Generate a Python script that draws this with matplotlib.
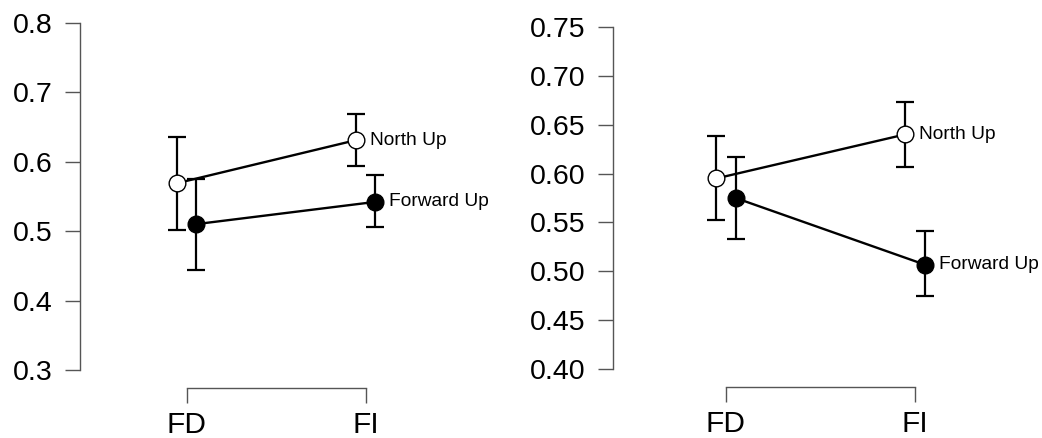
import matplotlib
matplotlib.use("Agg")
import matplotlib.pyplot as plt
import numpy as np

plt.rcParams['font.family'] = ['Liberation Sans', 'DejaVu Sans']

categories = ["FD", "FI"]
series_names = ["North Up", "Forward Up"]

# Left panel
left_north_mean = [0.569, 0.631]
left_north_lo = [0.502, 0.594]
left_north_hi = [0.635, 0.668]
left_forward_mean = [0.510, 0.542]
left_forward_lo = [0.444, 0.506]
left_forward_hi = [0.575, 0.581]
left_yticks = [0.3, 0.4, 0.5, 0.6, 0.7, 0.8]
left_yticklabels = ["0.3", "0.4", "0.5", "0.6", "0.7", "0.8"]

# Right panel
right_north_mean = [0.595, 0.640]
right_north_lo = [0.553, 0.607]
right_north_hi = [0.638, 0.673]
right_forward_mean = [0.575, 0.507]
right_forward_lo = [0.533, 0.475]
right_forward_hi = [0.617, 0.541]
right_yticks = [0.40, 0.45, 0.50, 0.55, 0.60, 0.65, 0.70, 0.75]
right_yticklabels = ["0.40", "0.45", "0.50", "0.55", "0.60", "0.65", "0.70", "0.75"]

W, H = 1042, 438
fig = plt.figure(figsize=(W / 100, H / 100), dpi=100)

spine_color = "#555555"


def make_panel(rect, xlim, ylim, yticks, yticklabels, north, forward, dodge):
    ax = fig.add_axes(rect)
    x = np.arange(len(categories))
    for (mean, lo, hi), name, face, off in [
        (forward, "Forward Up", "black", dodge),
        (north, "North Up", "white", -dodge),
    ]:
        xs = x + off
        mean = np.array(mean)
        yerr = [mean - np.array(lo), np.array(hi) - mean]
        ax.errorbar(xs, mean, yerr=yerr, fmt="none", ecolor="black",
                    elinewidth=1.6, capsize=6.5, capthick=1.6, zorder=2)
        ax.plot(xs, mean, color="black", lw=1.7, zorder=3)
        ax.plot(xs, mean, "o", ms=12, mfc=face, mec="black", mew=1.0, zorder=4)
        ax.annotate(name, (xs[-1], mean[-1]), xytext=(10, 0),
                    textcoords="offset points", va="center", ha="left",
                    fontsize=13.8, color="black")
    ax.set_xlim(*xlim)
    ax.set_ylim(*ylim)
    ax.set_yticks(yticks)
    ax.set_yticklabels(yticklabels)
    ax.set_xticks(x)
    ax.set_xticklabels(categories)
    for s in ["top", "right"]:
        ax.spines[s].set_visible(False)
    ax.spines["left"].set_bounds(ylim[0], ylim[1])
    ax.spines["bottom"].set_bounds(0, 1)
    ax.spines["bottom"].set_position(("outward", 13))
    for s in ["left", "bottom"]:
        ax.spines[s].set_color(spine_color)
        ax.spines[s].set_linewidth(1.0)
    ax.tick_params(axis="y", length=10.5, width=1.0, color=spine_color,
                   labelsize=20.5, pad=9)
    ax.tick_params(axis="x", length=10.5, width=1.0, color=spine_color,
                   labelsize=21.5, pad=6)
    ax.patch.set_alpha(0)
    return ax


# Left panel geometry (pixels -> figure fractions)
l_left, l_right = 80, 505
l_top, l_bot = 22.7, 370
fd_px, fi_px = 186.7, 365.7
unit = fi_px - fd_px
xlim_l = (-(fd_px - l_left) / unit, 1 + (l_right - fi_px) / unit)
make_panel([l_left / W, (H - l_bot) / H, (l_right - l_left) / W, (l_bot - l_top) / H],
           xlim_l, (0.3, 0.8), left_yticks, left_yticklabels,
           (left_north_mean, left_north_lo, left_north_hi),
           (left_forward_mean, left_forward_lo, left_forward_hi), 0.053)

# Right panel geometry
r_left, r_right = 612.7, 1040
r_top, r_bot = 26.7, 369.3
fd2, fi2 = 726, 915
unit2 = fi2 - fd2
xlim_r = (-(fd2 - r_left) / unit2, 1 + (r_right - fi2) / unit2)
make_panel([r_left / W, (H - r_bot) / H, (r_right - r_left) / W, (r_bot - r_top) / H],
           xlim_r, (0.40, 0.75), right_yticks, right_yticklabels,
           (right_north_mean, right_north_lo, right_north_hi),
           (right_forward_mean, right_forward_lo, right_forward_hi), 0.051)

fig.savefig("out.png", dpi=100)
